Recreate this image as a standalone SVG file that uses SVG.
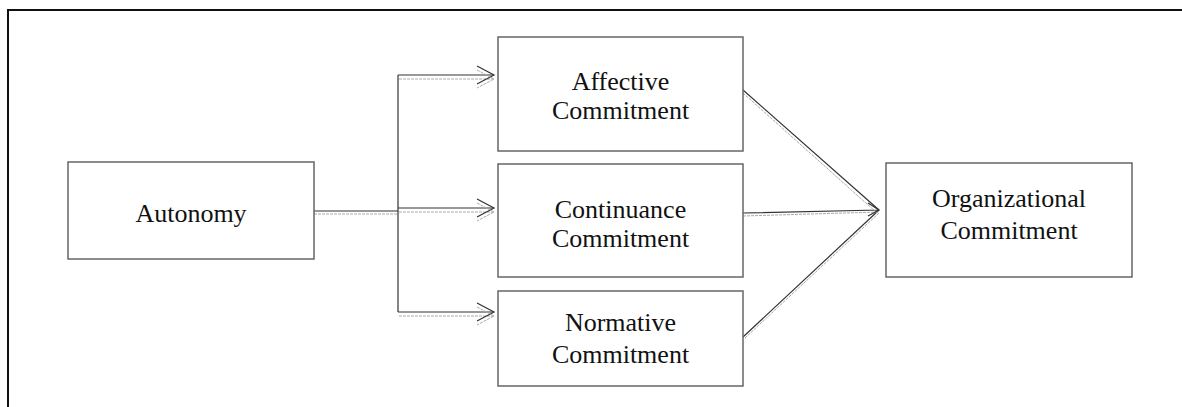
<svg xmlns="http://www.w3.org/2000/svg" width="1182" height="407" viewBox="0 0 1182 407">
<style>
.box{fill:#fff;stroke:#666;stroke-width:1.5}
.lbl{font-family:"Liberation Serif","Times New Roman",serif;font-size:26px;fill:#111;text-anchor:middle}
.ln{fill:none;stroke:#333;stroke-width:1.2}
.ln2{fill:none;stroke:#aaa;stroke-width:1;stroke-dasharray:3 1}
.frame{fill:none;stroke:#111;stroke-width:2}
</style>
<rect width="1182" height="407" fill="#fff"/>
<path class="frame" d="M8,408 V10 H1183"/>
<g id="connectors">
  <path class="ln" d="M314,211 H398 M398,75 V312 M398,75 H494 M398,208 H494 M398,312 H494"/>
  <path class="ln2" d="M314,214 H398 M399,79 H494 M399,212 H494 M399,316 H494"/>
  <path class="ln" d="M477,66 L494,75 L477,84 M477,199 L494,208 L477,217 M477,303 L494,312 L477,321"/>
  <path class="ln2" d="M477,70 L494,79 L477,88 M477,203 L494,212 L477,221 M477,307 L494,316 L477,325"/>
  <path class="ln" d="M743,90 L879,210 M743,213 L879,210 M743,337 L879,210"/>
  <path class="ln2" d="M743,93 L877,213 M743,216 L879,212 M745,338 L879,213"/>
  <path class="ln" d="M868,203 L879,210 L868,216"/>
</g>
<g id="autonomy">
  <rect class="box" x="68" y="162" width="246" height="97"/>
  <text class="lbl" x="191" y="222">Autonomy</text>
</g>
<g id="affective">
  <rect class="box" x="498" y="37" width="245" height="114"/>
  <text class="lbl" x="620.5" y="90">Affective</text>
  <text class="lbl" x="620.5" y="119">Commitment</text>
</g>
<g id="continuance">
  <rect class="box" x="498" y="164" width="245" height="113"/>
  <text class="lbl" x="620.5" y="218">Continuance</text>
  <text class="lbl" x="620.5" y="247">Commitment</text>
</g>
<g id="normative">
  <rect class="box" x="498" y="291" width="245" height="95"/>
  <text class="lbl" x="620.5" y="331">Normative</text>
  <text class="lbl" x="620.5" y="363">Commitment</text>
</g>
<g id="organizational">
  <rect class="box" x="886" y="163" width="246" height="114"/>
  <text class="lbl" x="1009" y="207">Organizational</text>
  <text class="lbl" x="1009" y="239">Commitment</text>
</g>
</svg>
